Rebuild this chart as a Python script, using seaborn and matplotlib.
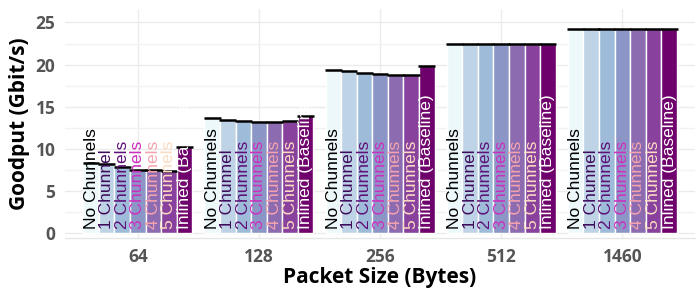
import matplotlib
matplotlib.use("Agg")
import matplotlib.pyplot as plt
import seaborn as sns
import pandas as pd
from matplotlib.ticker import MultipleLocator

sizes = ['64', '128', '256', '512', '1460']
variants = ['No Chunnels', '1 Chunnel', '2 Chunnels', '3 Chunnels',
            '4 Chunnels', '5 Chunnels', 'Inlined (Baseline)']
no_chunnels = [8.3, 13.6, 19.4, 22.4, 24.2]
one_chunnel = [8.2, 13.4, 19.2, 22.4, 24.2]
two_chunnels = [7.8, 13.3, 19.0, 22.4, 24.2]
three_chunnels = [7.5, 13.2, 18.9, 22.4, 24.2]
four_chunnels = [7.5, 13.2, 18.8, 22.4, 24.2]
five_chunnels = [7.3, 13.25, 18.7, 22.4, 24.2]
inlined = [10.15, 13.9, 19.85, 22.4, 24.2]

series = [no_chunnels, one_chunnel, two_chunnels, three_chunnels,
          four_chunnels, five_chunnels, inlined]
rows = []
for v, vals in zip(variants, series):
    for s, val in zip(sizes, vals):
        rows.append({'size': s, 'variant': v, 'goodput': val})
df = pd.DataFrame(rows)

bar_colors = ['#edf8fb', '#bfd3e6', '#9ebcda', '#8c96c6', '#8c6bb1', '#88419d', '#6e016b']
text_colors = ['#000000', '#3f0b5c', '#5e0f78', '#cc2fbf', '#f5a3ae', '#fcdcc2', '#ffffff']

sns.set_theme(style='whitegrid')
plt.rcParams['font.family'] = ['Open Sans', 'DejaVu Sans']

fig = plt.figure(figsize=(7, 3), dpi=100)
ax = fig.add_axes([0.093, 0.207, 0.9, 0.763])

sns.barplot(data=df, x='size', y='goodput', hue='variant', order=sizes,
            hue_order=variants, palette=bar_colors, saturation=1,
            width=0.9, errorbar=None, legend=False, ax=ax, zorder=2)

for cont in ax.containers:
    for p in cont.patches:
        x0 = p.get_x()
        w = p.get_width()
        h = p.get_height()
        ax.hlines(h, x0 - 0.005, x0 + w + 0.005, color='black', lw=1.8, zorder=3)

for cont, tcol, name in zip(ax.containers, text_colors, variants):
    for p in cont.patches:
        ax.text(p.get_x() + p.get_width() / 2, 0.45, name, rotation=90,
                ha='center', va='bottom', color=tcol, fontsize=12.5,
                family=['Liberation Sans', 'DejaVu Sans'], zorder=4)

ax.set_xlim(-0.6, 4.6)
ax.set_ylim(-0.6, 26.6)
ax.yaxis.set_major_locator(MultipleLocator(5))
ax.yaxis.set_minor_locator(MultipleLocator(2.5))
ax.grid(True, which='major', color='#ebebeb', lw=1.0)
ax.grid(True, which='minor', axis='y', color='#f2f2f2', lw=1.0)
ax.set_axisbelow(True)

for side in ['left', 'top', 'right']:
    ax.spines[side].set_visible(False)
ax.spines['bottom'].set_color('#e6e6e6')
ax.spines['bottom'].set_linewidth(1.0)

ax.tick_params(axis='both', which='major', length=4, color='#e0e0e0',
               labelsize=12.5, labelcolor='#555555', pad=3)
ax.tick_params(axis='y', which='minor', length=0)
for lbl in ax.get_xticklabels() + ax.get_yticklabels():
    lbl.set_fontweight('bold')

ax.set_xlabel('Packet Size (Bytes)', fontsize=15, fontweight='bold', color='black', labelpad=1)
ax.set_ylabel('Goodput (Gbit/s)', fontsize=15, fontweight='bold', color='black', labelpad=4)

fig.savefig('out.png', dpi=100)
